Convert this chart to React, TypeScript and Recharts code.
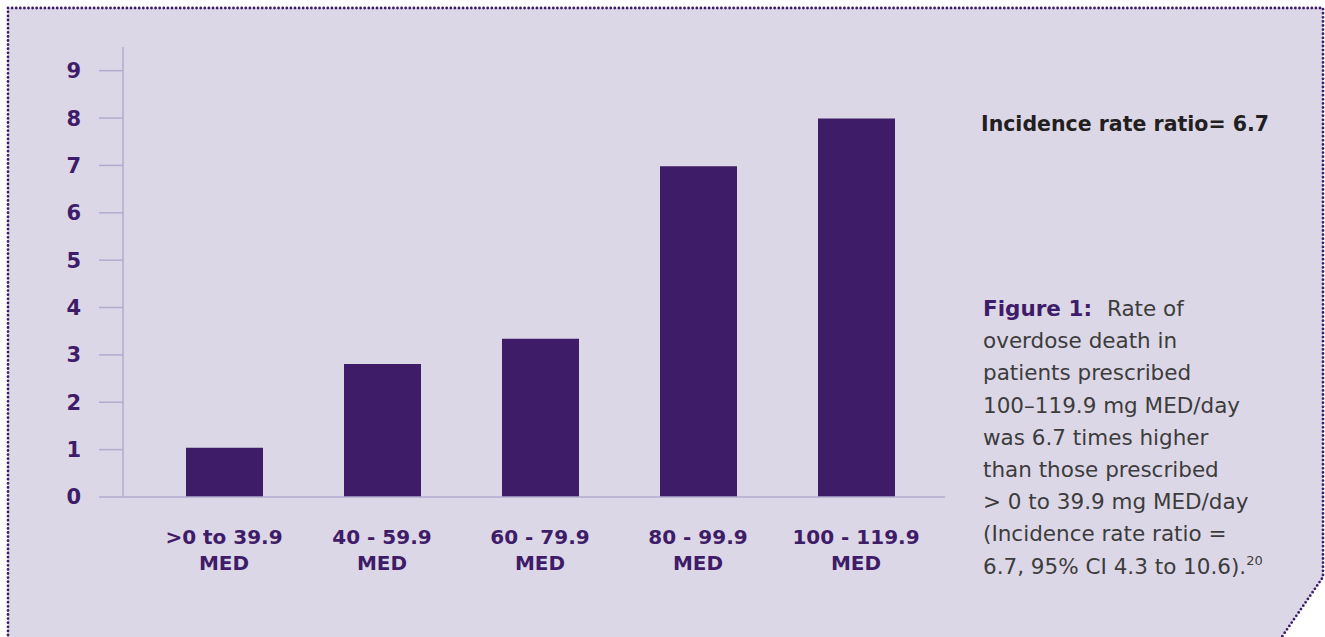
import React from "react";
import { BarChart, Bar, XAxis, YAxis } from "recharts";

const categories = [
	">0 to 39.9 MED",
	"40 - 59.9 MED",
	"60 - 79.9 MED",
	"80 - 99.9 MED",
	"100 - 119.9 MED",
];
const rates = [1.04, 2.81, 3.34, 6.98, 7.99];
const yTicks = [0, 1, 2, 3, 4, 5, 6, 7, 8, 9];

const ratioNote = "Incidence rate ratio= 6.7";
const captionLead = "Figure 1:";
const captionLines = [
	"Rate of",
	"overdose death in",
	"patients prescribed",
	"100–119.9 mg MED/day",
	"was 6.7 times higher",
	"than those prescribed",
	"> 0 to 39.9 mg MED/day",
	"(Incidence rate ratio =",
	"6.7, 95% CI 4.3 to 10.6).",
];
const captionRef = "20";

const data = categories.map((name, i) => ({ name, rate: rates[i] }));

const PURPLE = "#3f1c68";
const AXIS = "#b3abcf";
const BG = "#dcd7e7";
const FONT = "'DejaVu Sans', sans-serif";

const CategoryTick = (props: any) => {
	const { x, y, payload } = props;
	const label: string = payload.value;
	const cut = label.lastIndexOf(" ");
	return (
		<g>
			<text
				x={x}
				y={y + 47}
				textAnchor="middle"
				fill={PURPLE}
				fontFamily={FONT}
				fontWeight="bold"
				fontSize={20}>
				{label.slice(0, cut)}
			</text>
			<text
				x={x}
				y={y + 73}
				textAnchor="middle"
				fill={PURPLE}
				fontFamily={FONT}
				fontWeight="bold"
				fontSize={20}>
				{label.slice(cut + 1)}
			</text>
		</g>
	);
};

const App: React.FC = () => {
	return (
		<div
			style={{
				position: "absolute",
				left: 0,
				top: 0,
				width: 1325,
				height: 637,
				overflow: "hidden",
				background: "#fff",
			}}>
			<svg
				width={1325}
				height={637}
				style={{ position: "absolute", left: 0, top: 0 }}>
				<polygon
					points="8,8 1323,8 1323,577 1266,660 8,660"
					fill={BG}
					stroke={PURPLE}
					strokeWidth={2.8}
					strokeDasharray="0 4.1"
					strokeLinecap="round"
				/>
				<text
					x={981}
					y={131}
					fill="#231f20"
					fontFamily={FONT}
					fontWeight="bold"
					fontSize={20.5}>
					{ratioNote}
				</text>
				<g fontFamily={FONT} fontSize={21.5} fill="#3c3c3c">
					{captionLines.map((line, i) => (
						<text key={i} x={983} y={316 + i * 32.2}>
							{i === 0 && (
								<tspan fill={PURPLE} fontWeight="bold">
									{captionLead + "\u00a0\u00a0"}
								</tspan>
							)}
							{line}
							{i === captionLines.length - 1 && (
								<tspan fontSize={13} dy={-9}>
									{captionRef}
								</tspan>
							)}
						</text>
					))}
				</g>
			</svg>
			<div style={{ position: "absolute", left: 0, top: 0 }}>
				<BarChart
					width={960}
					height={637}
					data={data}
					margin={{ top: 47, right: 15, left: 0, bottom: 0 }}>
					<YAxis
						width={123}
						domain={[0, 9.5]}
						ticks={yTicks}
						interval={0}
						tickSize={24}
						tickMargin={18}
						axisLine={{ stroke: AXIS, strokeWidth: 1.5 }}
						tickLine={{ stroke: AXIS, strokeWidth: 1.5 }}
						tick={{
							fill: PURPLE,
							fontFamily: FONT,
							fontWeight: "bold",
							fontSize: 21,
						}}
					/>
					<XAxis
						dataKey="name"
						height={140}
						interval={0}
						padding={{ left: 22, right: 10 }}
						tickSize={0}
						tickMargin={0}
						axisLine={{ stroke: AXIS, strokeWidth: 1.5 }}
						tickLine={false}
						tick={<CategoryTick />}
					/>
					<Bar
						dataKey="rate"
						fill={PURPLE}
						barSize={77}
						isAnimationActive={false}
					/>
				</BarChart>
			</div>
		</div>
	);
};

export default App;
